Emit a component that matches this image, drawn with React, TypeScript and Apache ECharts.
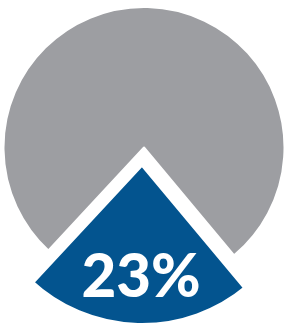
import React, { useEffect, useRef } from "react";
import * as echarts from "echarts";

const categories = ["Highlighted", "Rest"];
const shares = [23, 77];
const shareLabels = ["23%"];

const GRAY = "#9d9ea2";
const BLUE = "#03548f";

export default function App() {
  const ref = useRef<HTMLDivElement>(null);
  useEffect(() => {
    if (!ref.current) return;
    const chart = echarts.init(ref.current, null, { renderer: "svg" });
    const half = (shares[0] / (shares[0] + shares[1])) * 360 / 2;
    const startAngle = 268.5 + half;
    const hidden = { color: "rgba(0,0,0,0)", borderWidth: 0 };
    chart.setOption({
      animation: false,
      series: [
        {
          type: "pie",
          silent: true,
          center: [144, 147.5],
          radius: 140.5,
          startAngle,
          clockwise: true,
          label: { show: false },
          labelLine: { show: false },
          emphasis: { disabled: true },
          data: [
            { name: categories[0], value: shares[0], itemStyle: hidden },
            { name: categories[1], value: shares[1], itemStyle: { color: GRAY, borderColor: "#fff", borderWidth: 2 } },
          ],
        },
        {
          type: "pie",
          silent: true,
          center: [142, 162],
          radius: 164.5,
          startAngle,
          clockwise: true,
          label: { show: false },
          labelLine: { show: false },
          emphasis: { disabled: true },
          data: [
            { name: categories[0], value: shares[0], itemStyle: { color: BLUE, borderColor: "#fff", borderWidth: 7 } },
            { name: categories[1], value: shares[1], itemStyle: hidden },
          ],
        },
      ],
      graphic: [
        {
          type: "text",
          z: 100,
          zlevel: 1,
          x: 141,
          y: 274,
          style: {
            text: shareLabels[0],
            fill: "#ffffff",
            fontSize: 60,
            fontWeight: 900,
            fontFamily: "Lato, 'Open Sans', sans-serif",
            align: "center",
            verticalAlign: "middle",
          },
        },
      ],
    });
    return () => chart.dispose();
  }, []);
  return (
    <div
      ref={ref}
      style={{ position: "fixed", left: 0, top: 0, width: 286, height: 325, background: "#fff" }}
    />
  );
}
